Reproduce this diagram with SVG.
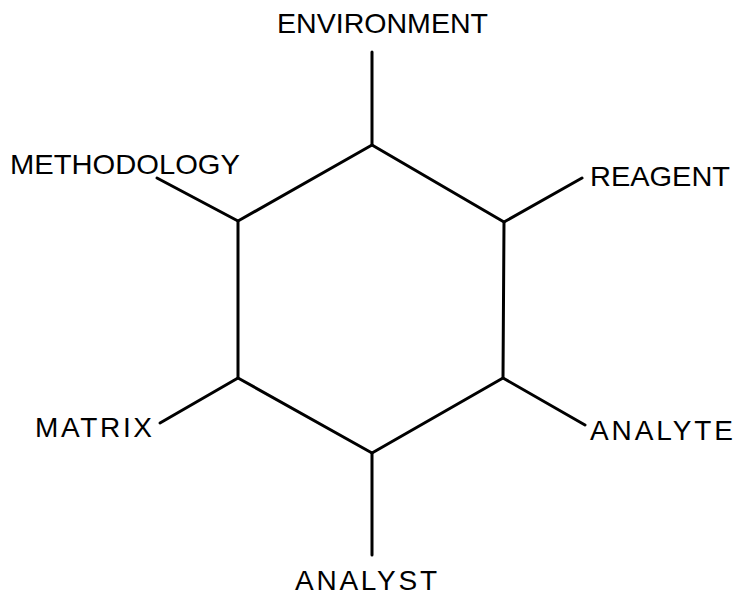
<svg xmlns="http://www.w3.org/2000/svg" width="741" height="595" viewBox="0 0 741 595">
  <style>
    .ln { fill: none; stroke: #000; stroke-width: 3; stroke-linecap: round; stroke-linejoin: round; }
    .lbl { font-family: "Liberation Sans", Arial, sans-serif; font-size: 28px; fill: #000; }
  </style>
  <rect width="741" height="595" fill="#fff"/>
  <g id="hexagon">
    <polygon class="ln" points="372,145 504,222 503,378 372,453 238,378 238,221"/>
  </g>
  <g id="connectors">
    <line class="ln" x1="372" y1="145" x2="372" y2="52"/>
    <line class="ln" x1="504" y1="222" x2="582" y2="178"/>
    <line class="ln" x1="503" y1="378" x2="585" y2="425"/>
    <line class="ln" x1="372" y1="453" x2="372" y2="555"/>
    <line class="ln" x1="238" y1="378" x2="160" y2="423"/>
    <line class="ln" x1="238" y1="221" x2="157" y2="178"/>
  </g>
  <g id="environment"><text class="lbl" x="277" y="33" textLength="211" lengthAdjust="spacingAndGlyphs">ENVIRONMENT</text></g>
  <g id="reagent"><text class="lbl" x="590" y="186" textLength="140" lengthAdjust="spacingAndGlyphs">REAGENT</text></g>
  <g id="analyte"><text class="lbl" x="590" y="440" textLength="143" lengthAdjust="spacing">ANALYTE</text></g>
  <g id="analyst"><text class="lbl" x="295" y="590" textLength="142" lengthAdjust="spacing">ANALYST</text></g>
  <g id="matrix"><text class="lbl" x="35" y="437" textLength="117" lengthAdjust="spacing">MATRIX</text></g>
  <g id="methodology"><text class="lbl" x="10" y="174" textLength="230" lengthAdjust="spacingAndGlyphs">METHODOLOGY</text></g>
</svg>
